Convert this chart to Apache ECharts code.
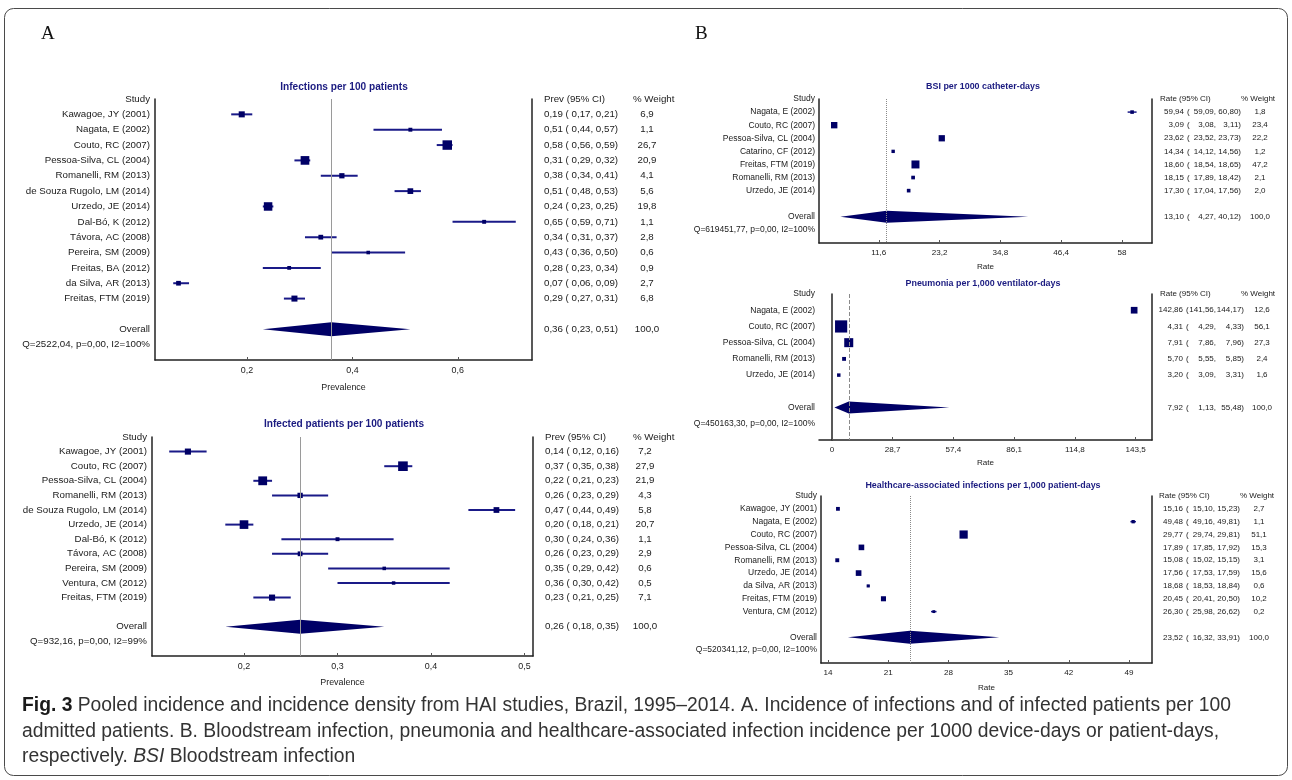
<!DOCTYPE html>
<html><head><meta charset="utf-8">
<script src="https://cdn.jsdelivr.net/npm/echarts@6/dist/echarts.min.js"></script>
<style>html,body{margin:0;padding:0;background:#fff}#chart{width:1292px;height:780px}</style>
</head><body><div id="chart"></div>
<script>
// ===================== DATA =====================
// Panel A1: Infections per 100 patients
const a1Title = 'Infections per 100 patients';
const a1Studies = ['Kawagoe, JY (2001)','Nagata, E (2002)','Couto, RC (2007)','Pessoa-Silva, CL (2004)','Romanelli, RM (2013)','de Souza Rugolo, LM (2014)','Urzedo, JE (2014)','Dal-Bó, K (2012)','Távora, AC (2008)','Pereira, SM (2009)','Freitas, BA (2012)','da Silva, AR (2013)','Freitas, FTM (2019)'];
const a1Est    = [0.19,0.51,0.58,0.31,0.38,0.51,0.24,0.65,0.34,0.43,0.28,0.07,0.29];
const a1Low    = [0.17,0.44,0.56,0.29,0.34,0.48,0.23,0.59,0.31,0.36,0.23,0.06,0.27];
const a1High   = [0.21,0.57,0.59,0.32,0.41,0.53,0.25,0.71,0.37,0.50,0.34,0.09,0.31];
const a1Weight = [6.9,1.1,26.7,20.9,4.1,5.6,19.8,1.1,2.8,0.6,0.9,2.7,6.8];
const a1Overall = [0.36,0.23,0.51];
const a1Q = 'Q=2522,04, p=0,00, I2=100%';
const a1Ticks = [0.2,0.4,0.6];

// Panel A2: Infected patients per 100 patients
const a2Title = 'Infected patients per 100 patients';
const a2Studies = ['Kawagoe, JY (2001)','Couto, RC (2007)','Pessoa-Silva, CL (2004)','Romanelli, RM (2013)','de Souza Rugolo, LM (2014)','Urzedo, JE (2014)','Dal-Bó, K (2012)','Távora, AC (2008)','Pereira, SM (2009)','Ventura, CM (2012)','Freitas, FTM (2019)'];
const a2Est    = [0.14,0.37,0.22,0.26,0.47,0.20,0.30,0.26,0.35,0.36,0.23];
const a2Low    = [0.12,0.35,0.21,0.23,0.44,0.18,0.24,0.23,0.29,0.30,0.21];
const a2High   = [0.16,0.38,0.23,0.29,0.49,0.21,0.36,0.29,0.42,0.42,0.25];
const a2Weight = [7.2,27.9,21.9,4.3,5.8,20.7,1.1,2.9,0.6,0.5,7.1];
const a2Overall = [0.26,0.18,0.35];
const a2Q = 'Q=932,16, p=0,00, I2=99%';
const a2Ticks = [0.2,0.3,0.4,0.5];

// Panel B1: BSI per 1000 catheter-days
const b1Title = 'BSI per 1000 catheter-days';
const b1Studies = ['Nagata, E (2002)','Couto, RC (2007)','Pessoa-Silva, CL (2004)','Catarino, CF (2012)','Freitas, FTM (2019)','Romanelli, RM (2013)','Urzedo, JE (2014)'];
const b1Est    = [59.94,3.09,23.62,14.34,18.60,18.15,17.30];
const b1Low    = [59.09,3.08,23.52,14.12,18.54,17.89,17.04];
const b1High   = [60.80,3.11,23.73,14.56,18.65,18.42,17.56];
const b1Weight = [1.8,23.4,22.2,1.2,47.2,2.1,2.0];
const b1Overall = [13.10,4.27,40.12];
const b1Q = 'Q=619451,77, p=0,00, I2=100%';
const b1Ticks = [11.6,23.2,34.8,46.4,58];

// Panel B2: Pneumonia per 1,000 ventilator-days
const b2Title = 'Pneumonia per 1,000 ventilator-days';
const b2Studies = ['Nagata, E (2002)','Couto, RC (2007)','Pessoa-Silva, CL (2004)','Romanelli, RM (2013)','Urzedo, JE (2014)'];
const b2Est    = [142.86,4.31,7.91,5.70,3.20];
const b2Low    = [141.56,4.29,7.86,5.55,3.09];
const b2High   = [144.17,4.33,7.96,5.85,3.31];
const b2Weight = [12.6,56.1,27.3,2.4,1.6];
const b2Overall = [7.92,1.13,55.48];
const b2Q = 'Q=450163,30, p=0,00, I2=100%';
const b2Ticks = [0,28.7,57.4,86.1,114.8,143.5];

// Panel B3: Healthcare-associated infections per 1,000 patient-days
const b3Title = 'Healthcare-associated infections per 1,000 patient-days';
const b3Studies = ['Kawagoe, JY (2001)','Nagata, E (2002)','Couto, RC (2007)','Pessoa-Silva, CL (2004)','Romanelli, RM (2013)','Urzedo, JE (2014)','da Silva, AR (2013)','Freitas, FTM (2019)','Ventura, CM (2012)'];
const b3Est    = [15.16,49.48,29.77,17.89,15.08,17.56,18.68,20.45,26.30];
const b3Low    = [15.10,49.16,29.74,17.85,15.02,17.53,18.53,20.41,25.98];
const b3High   = [15.23,49.81,29.81,17.92,15.15,17.59,18.84,20.50,26.62];
const b3Weight = [2.7,1.1,51.1,15.3,3.1,15.6,0.6,10.2,0.2];
const b3Overall = [23.52,16.32,33.91];
const b3Q = 'Q=520341,12, p=0,00, I2=100%';
const b3Ticks = [14,21,28,35,42,49];

const overallWeight = 100.0;
const weightHeader = '% Weight';
const captionLines = [
  '{b|Fig. 3} Pooled incidence and incidence density from HAI studies, Brazil, 1995–2014. A. Incidence of infections and of infected patients per 100',
  'admitted patients. B. Bloodstream infection, pneumonia and healthcare-associated infection incidence per 1000 device-days or patient-days,',
  'respectively. {i|BSI} Bloodstream infection'
];

// ===================== FONTS =====================
const mctx = document.createElement('canvas').getContext('2d');
function fontAvailable(name) {
  const s = 'Kawagoe, JY (2001) WMmwil 0123456789';
  for (const base of ['monospace', 'serif']) {
    mctx.font = '40px ' + base; const a = mctx.measureText(s).width;
    mctx.font = '40px "' + name + '", ' + base; const b = mctx.measureText(s).width;
    if (Math.abs(a - b) > 0.5) return true;
  }
  return false;
}
const NARROW = fontAvailable('Liberation Sans Narrow');
const FF = NARROW ? '"Liberation Sans Narrow", "Liberation Sans", sans-serif' : '"Liberation Sans", Arial, sans-serif';
const K = NARROW ? 1 : 0.81;

const NAVY = '#000066';
const TITLE_C = '#1b1b80';
const TXT = '#1a1a1a';

const f2 = v => v.toFixed(2).replace('.', ',');
const f1 = v => v.toFixed(1).replace('.', ',');
const tickFmt = v => String(+v.toFixed(4)).replace('.', ',');

// ===================== PANELS (layout) =====================
const panels = [
  {type:'A', title:a1Title, studies:a1Studies, est:a1Est, low:a1Low, high:a1High, weight:a1Weight, overall:a1Overall, q:a1Q, ticks:a1Ticks,
   hdr:'Prev (95% CI)', axisName:'Prevalence',
   lay:{left:155, top:99, width:377, height:261, min:0.0254, max:0.7408, tx:344, ty:87, fs:12, rfs:12, tfs:12.5, lfs:11, nameGap:23, lm:5,
        cols:{ci:12, w:115, wh:101}, dh:7, ref:'solid', lw:2, sz:[2.5,1.35]}},
  {type:'A', title:a2Title, studies:a2Studies, est:a2Est, low:a2Low, high:a2High, weight:a2Weight, overall:a2Overall, q:a2Q, ticks:a2Ticks,
   hdr:'Prev (95% CI)', axisName:'Prevalence',
   lay:{left:152, top:437, width:381, height:219, min:0.1016, max:0.5091, tx:344, ty:424, fs:12, rfs:12, tfs:12.5, lfs:11, nameGap:22, lm:5,
        cols:{ci:12, w:112, wh:100}, dh:7, ref:'solid', lw:2, sz:[2.5,1.35]}},
  {type:'B', title:b1Title, studies:b1Studies, est:b1Est, low:b1Low, high:b1High, weight:b1Weight, overall:b1Overall, q:b1Q, ticks:b1Ticks,
   hdr:'Rate (95% CI)', axisName:'Rate',
   lay:{left:819, top:99, width:333, height:144, min:0.19, max:63.74, tx:983, ty:87, fs:10.5, rfs:9.9, tfs:11, lfs:10, nameGap:20, lm:4,
        cols:{hd:8, v:32, o:35, l:64, u:89, w:108, wh:89}, dh:6, ref:'dotted', lw:1.5, sz:[2.5,0.8]}},
  {type:'B', title:b2Title, studies:b2Studies, est:b2Est, low:b2Low, high:b2High, weight:b2Weight, overall:b2Overall, q:b2Q, ticks:b2Ticks,
   hdr:'Rate (95% CI)', axisName:'Rate',
   lay:{left:819, top:294, width:333, height:146, min:-6.15, max:151.3, tx:983, ty:284, fs:10.5, rfs:9.9, tfs:11, lfs:10, nameGap:19, lm:4,
        cols:{hd:8, v:31, o:34, l:64, u:92, w:110, wh:89}, dh:6, ref:'dashed', lw:1.5, sz:[1.7,1.4]}},
  {type:'B', title:b3Title, studies:b3Studies, est:b3Est, low:b3Low, high:b3High, weight:b3Weight, overall:b3Overall, q:b3Q, ticks:b3Ticks,
   hdr:'Rate (95% CI)', axisName:'Rate',
   lay:{left:821, top:496, width:331, height:167, min:13.19, max:51.67, tx:983, ty:486, fs:10.5, rfs:9.9, tfs:11, lfs:10, nameGap:21, lm:4,
        cols:{hd:7, v:31, o:34, l:63, u:88, w:107, wh:88}, dh:6.5, ref:'dotted', lw:1.5, sz:[2.5,0.8]}}
];

const option = {
  animation: false,
  backgroundColor: '#fff',
  textStyle: {fontFamily: FF},
  grid: [], xAxis: [], yAxis: [], series: [], graphic: []
};

panels.forEach((p, gi) => {
  const L = p.lay;
  const n = p.studies.length;
  const cats = ['Study', ...p.studies, ' ', 'Overall', p.q, '  '];
  const oIdx = n + 2;
  const fs = L.fs * K;
  const rfs = L.rfs * K;
  const row = idx => {
    if (idx >= 1 && idx <= n) return {e:p.est[idx-1], lo:p.low[idx-1], hi:p.high[idx-1], w:p.weight[idx-1]};
    if (idx === oIdx) return {e:p.overall[0], lo:p.overall[1], hi:p.overall[2], w:overallWeight};
    return null;
  };
  option.grid.push({left:L.left, top:L.top, width:L.width, height:L.height, containLabel:false, outerBoundsMode:'none'});
  option.xAxis.push({
    type:'value', gridIndex:gi, min:L.min, max:L.max,
    axisLine:{show:true, onZero:false, lineStyle:{color:'#222', width:1.5}},
    axisTick:{show:true, inside:true, length:3, customValues:p.ticks, lineStyle:{color:'#555'}},
    axisLabel:{customValues:p.ticks, formatter:tickFmt, fontFamily:FF, fontSize:L.lfs*K, color:'#222', margin:6},
    splitLine:{show:false},
    name:p.axisName, nameLocation:'middle', nameGap:L.nameGap,
    nameTextStyle:{fontFamily:FF, fontSize:L.lfs*K, color:'#222'}
  });
  // left axis with study labels
  const yi = option.yAxis.length;
  option.yAxis.push({
    type:'category', gridIndex:gi, data:cats, inverse:true, boundaryGap:false, position:'left',
    axisLine:{show:true, lineStyle:{color:'#222', width:1.5}}, axisTick:{show:false}, splitLine:{show:false},
    axisLabel:{interval:0, margin:L.lm, fontFamily:FF, fontSize:fs, color:TXT}
  });
  // right-hand text columns: each column is a category axis on the right
  const colAxis = (margin, align, fmt, showLine) => option.yAxis.push({
    type:'category', gridIndex:gi, data:cats, inverse:true, boundaryGap:false, position:'right',
    axisLine:{show:!!showLine, lineStyle:{color:'#222', width:1.5}}, axisTick:{show:false}, splitLine:{show:false},
    axisLabel:{interval:0, margin:margin, align:align, formatter:(v, idx) => fmt(idx), fontFamily:FF, fontSize:rfs, color:TXT}
  });
  const C = L.cols;
  if (p.type === 'A') {
    colAxis(C.ci, 'left', idx => { if (idx === 0) return p.hdr; const r = row(idx); return r ? `${f2(r.e)} ( ${f2(r.lo)}, ${f2(r.hi)})` : ''; }, true);
    colAxis(C.w, 'center', idx => { const r = row(idx); return r ? f1(r.w) : ''; });
    colAxis(C.wh, 'left', idx => idx === 0 ? weightHeader : '');
  } else {
    colAxis(C.hd, 'left', idx => idx === 0 ? p.hdr : '', true);
    colAxis(C.v, 'right', idx => { const r = row(idx); return r ? f2(r.e) : ''; });
    colAxis(C.o, 'left', idx => row(idx) ? '(' : '');
    colAxis(C.l, 'right', idx => { const r = row(idx); return r ? f2(r.lo) + ',' : ''; });
    colAxis(C.u, 'right', idx => { const r = row(idx); return r ? f2(r.hi) + ')' : ''; });
    colAxis(C.w, 'center', idx => { const r = row(idx); return r ? f1(r.w) : ''; });
    colAxis(C.wh, 'left', idx => idx === 0 ? weightHeader : '');
  }
  // CI lines
  option.series.push({
    type:'custom', xAxisIndex:gi, yAxisIndex:yi, silent:true,
    data: p.studies.map((s, i) => [p.low[i], p.high[i], i + 1]),
    encode:{x:[0,1], y:2},
    renderItem:(params, api) => {
      const a = api.coord([api.value(0), api.value(2)]);
      const b = api.coord([api.value(1), api.value(2)]);
      return {type:'line', shape:{x1:a[0], y1:a[1], x2:b[0], y2:b[1]}, style:{stroke:'#1a1a88', lineWidth:L.lw}};
    }
  });
  // squares + reference line at pooled estimate
  option.series.push({
    type:'scatter', xAxisIndex:gi, yAxisIndex:yi, silent:true, symbol:'rect',
    data: p.studies.map((s, i) => [p.est[i], i + 1, p.weight[i]]),
    encode:{x:0, y:1},
    symbolSize: val => L.sz[0] + L.sz[1] * Math.sqrt(val[2]),
    itemStyle:{color:NAVY, opacity:1},
    markLine:{silent:true, symbol:'none', label:{show:false},
      lineStyle:{color: L.ref === 'solid' ? '#9a9a9a' : '#8a8a8a', type:L.ref, width:1, opacity:1},
      data:[{xAxis:p.overall[0]}]}
  });
  // pooled diamond
  option.series.push({
    type:'custom', xAxisIndex:gi, yAxisIndex:yi, silent:true,
    data:[[p.overall[1], p.overall[0], p.overall[2], oIdx]],
    encode:{x:[0,1,2], y:3},
    renderItem:(params, api) => {
      const c = api.coord([api.value(1), api.value(3)]);
      const l = api.coord([api.value(0), api.value(3)]);
      const r = api.coord([api.value(2), api.value(3)]);
      return {type:'polygon', shape:{points:[[l[0], c[1]], [c[0], c[1] - L.dh], [r[0], c[1]], [c[0], c[1] + L.dh]]}, style:{fill:NAVY}};
    }
  });
  // panel title
  option.graphic.push({type:'text', x:L.tx, y:L.ty, silent:true,
    style:{text:p.title, align:'center', verticalAlign:'middle', textAlign:'center', textVerticalAlign:'middle',
      font:`bold ${L.tfs*K}px ${FF}`, fill:TITLE_C}});
});

// outer frame and panel letters
option.graphic.push({type:'rect', silent:true, shape:{x:4.5, y:8.5, width:1283, height:767, r:9},
  style:{fill:'none', stroke:'#4a4a4a', lineWidth:1}, z:-1});
option.graphic.push({type:'text', x:41, y:34, silent:true, style:{text:'A', verticalAlign:'middle', textVerticalAlign:'middle', font:'19px "Liberation Serif", serif', fill:'#111'}});
option.graphic.push({type:'text', x:695, y:34, silent:true, style:{text:'B', verticalAlign:'middle', textVerticalAlign:'middle', font:'19px "Liberation Serif", serif', fill:'#111'}});

// caption: first line fitted to its width in the reference
mctx.font = `bold 100px ${FF}`; const wb = mctx.measureText('Fig. 3').width;
mctx.font = `100px ${FF}`; const wr = mctx.measureText(captionLines[0].replace('{b|Fig. 3}', '')).width;
const capFs = 100 * 1210 / (wb + wr);
const capRich = {b:{font:`bold ${capFs}px ${FF}`, fill:'#1a1a1a'}, i:{font:`italic ${capFs}px ${FF}`, fill:'#333'}};
[706, 731.5, 757].forEach((y, i) => {
  option.graphic.push({type:'text', x:22, y:y, silent:true,
    style:{text:captionLines[i], verticalAlign:'middle', textVerticalAlign:'middle', font:`${capFs}px ${FF}`, fill:'#333', rich:capRich}});
});

const chart = echarts.init(document.getElementById('chart'), null, {renderer:'canvas'});
chart.setOption(option);
</script></body></html>
